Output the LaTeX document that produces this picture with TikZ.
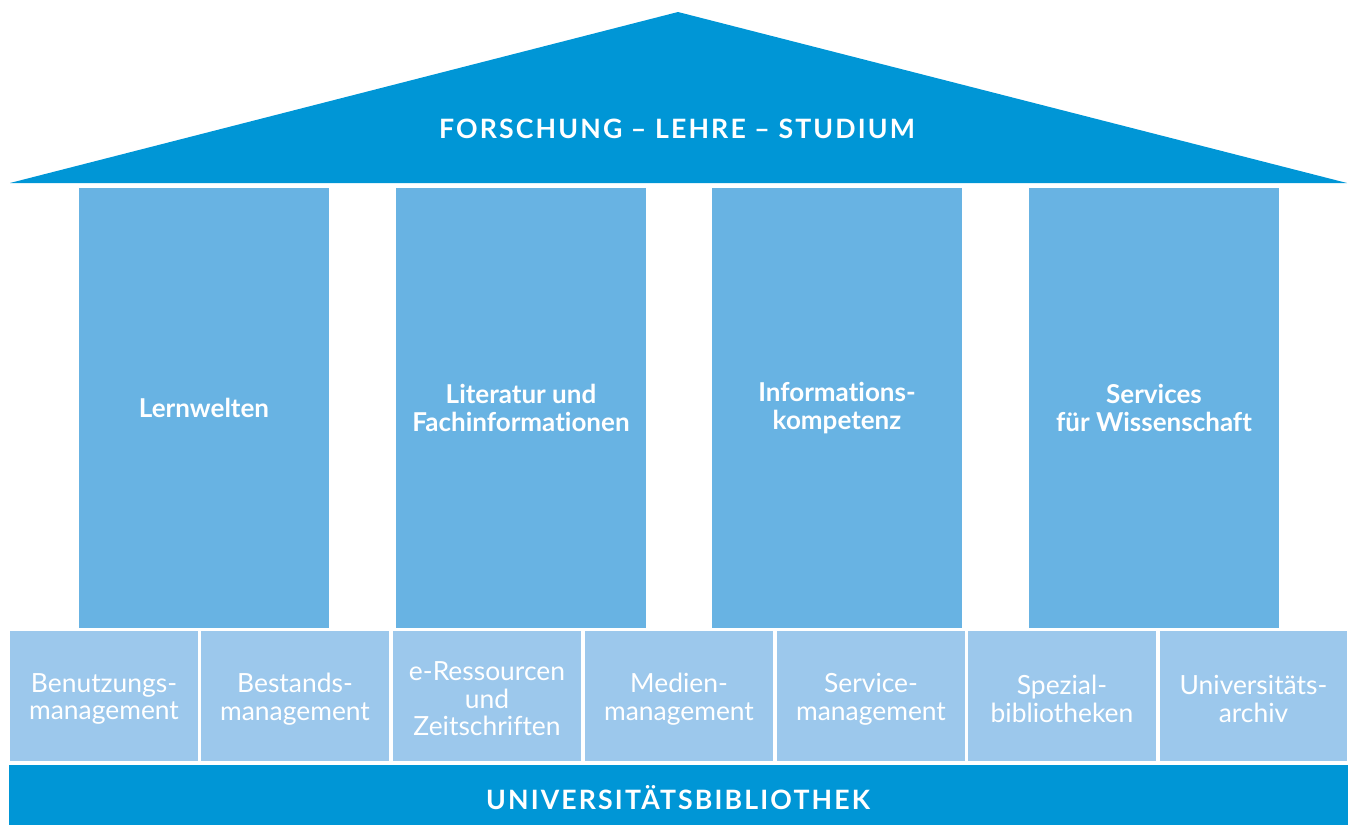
\documentclass[tikz,border=0pt]{standalone}
\usepackage{fontspec}
\setmainfont{Lato}[Ligatures=NoCommon]
\definecolor{roofblue}{RGB}{0,150,214}
\definecolor{pillarblue}{RGB}{104,179,227}
\definecolor{tileblue}{RGB}{156,200,236}
\tikzset{
  headline/.style={text=white, font=\fontsize{20}{22}\selectfont\bfseries\addfontfeatures{LetterSpace=8}},
  pillartext/.style={text=white, align=center, font=\fontsize{19.5}{21}\selectfont\bfseries},
  tiletext/.style={text=white, align=center, font=\fontsize{19.8}{20.7}\selectfont},
}
\begin{document}
\begin{tikzpicture}[x=0.75pt,y=-0.75pt]
\useasboundingbox (0,0) rectangle (1354,825);
% roof
\fill[roofblue] (10,183) -- (678,12) -- (1347,183) -- cycle;
\node[headline] (roof) at (677,129) {FORSCHUNG – LEHRE – STUDIUM};
% pillars
\foreach \x/\name/\txt in {79/lern/{Lernwelten},
    396/lit/{Literatur und\\Fachinformationen},
    712/info/{Informations-\\kompetenz},
    1029/serv/{Services\\für Wissenschaft}} {
  \fill[pillarblue] (\x,188) rectangle ++(250,440);
  \node[pillartext] (\name) at (\x+125,408) {\txt};
}
% tiles
\foreach \x/\w/\name/\txt in {10/188/ben/{Benutzungs-\\management},
    201/188/best/{Bestands-\\management},
    393/188/eres/{e-Ressourcen\\und\\Zeitschriften},
    585/188/med/{Medien-\\management},
    777/188/sm/{Service-\\management},
    968/188/spez/{Spezial-\\bibliotheken},
    1160/187/arch/{Universitäts-\\archiv}} {
  \fill[tileblue] (\x,631) rectangle ++(\w,130);
  \node[tiletext] (\name) at (\x+\w/2,699) {\txt};
}
% base
\fill[roofblue] (9,765) rectangle (1348,825);
\node[headline] (base) at (678,798) {UNIVERSITÄTSBIBLIOTHEK};
\end{tikzpicture}
\end{document}
